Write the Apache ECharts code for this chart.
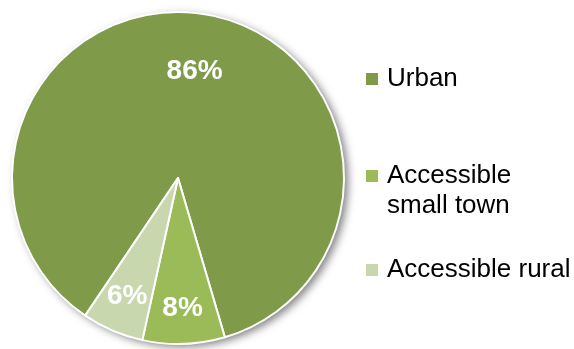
<!DOCTYPE html>
<html>
<head>
<meta charset="utf-8">
<script src="https://cdn.jsdelivr.net/npm/echarts@6/dist/echarts.min.js"></script>
<style>
  html, body { margin: 0; padding: 0; background: #ffffff; }
  #chart { width: 574px; height: 349px; }
</style>
</head>
<body>
<div id="chart"></div>
<script>
// Settlement types and their shares (%)
const categories = ['Urban', 'Accessible small town', 'Accessible rural'];
const shares = [86, 8, 6];
const legendLabels = ['Urban', 'Accessible\nsmall town', 'Accessible rural'];
const sliceColors = ['#7f9b49', '#9bbb59', '#c9d7af'];

const FONT = "'Liberation Sans', Arial, Helvetica, sans-serif";
const CENTER = [178, 178];
const RADIUS = 166;
// how far out each label sits, relative to the default mid-radius spot
const labelPush = [1.26, 1.52, 1.5];

const chart = echarts.init(document.getElementById('chart'), null, { renderer: 'canvas' });

const pieData = categories.map((name, i) => ({
  name: name,
  value: shares[i],
  itemStyle: { color: sliceColors[i] }
}));

// one legend block per category; a wrapped label gets a leading empty line
// so the marker sits beside its first line of text
const legendTops = [64, 131, 255];
const legends = categories.map((name, i) => {
  const lines = legendLabels[i].split('\n').length;
  const text = (lines > 1 ? '\n' : '') + legendLabels[i];
  return {
    orient: 'vertical',
    left: 366,
    top: legendTops[i],
    padding: 0,
    itemWidth: 12,
    itemHeight: 12,
    icon: 'rect',
    selectedMode: false,
    itemStyle: { borderWidth: 0, borderColor: 'transparent' },
    data: [name],
    formatter: () => text,
    textStyle: {
      fontFamily: FONT,
      fontSize: 26,
      lineHeight: 30,
      color: '#000000',
      padding: [0, 0, 0, 4]
    }
  };
});

chart.setOption({
  backgroundColor: '#ffffff',
  animation: false,
  legend: legends,
  series: [
    {
      // soft drop shadow behind the whole pie
      type: 'pie',
      name: 'shadow',
      silent: true,
      center: CENTER,
      radius: RADIUS,
      z: 1,
      label: { show: false },
      labelLine: { show: false },
      data: [{
        value: 1,
        itemStyle: {
          color: '#ffffff',
          shadowBlur: 9,
          shadowOffsetX: 4,
          shadowOffsetY: 3,
          shadowColor: 'rgba(0,0,0,0.5)'
        }
      }]
    },
    {
      type: 'pie',
      name: 'Settlement type',
      center: CENTER,
      radius: RADIUS,
      startAngle: 236,
      clockwise: true,
      z: 2,
      silent: true,
      itemStyle: { borderColor: '#ffffff', borderWidth: 2 },
      label: {
        show: true,
        position: 'inside',
        formatter: p => p.value + '%',
        color: '#ffffff',
        fontFamily: FONT,
        fontWeight: 'bold',
        fontSize: 28
      },
      labelLine: { show: false },
      labelLayout: function (params) {
        const r = params.labelRect;
        const lx = r.x + r.width / 2;
        const ly = r.y + r.height / 2;
        const k = labelPush[params.dataIndex] - 1;
        return { dx: (lx - CENTER[0]) * k, dy: (ly - CENTER[1]) * k };
      },
      data: pieData
    }
  ]
});
</script>
</body>
</html>
